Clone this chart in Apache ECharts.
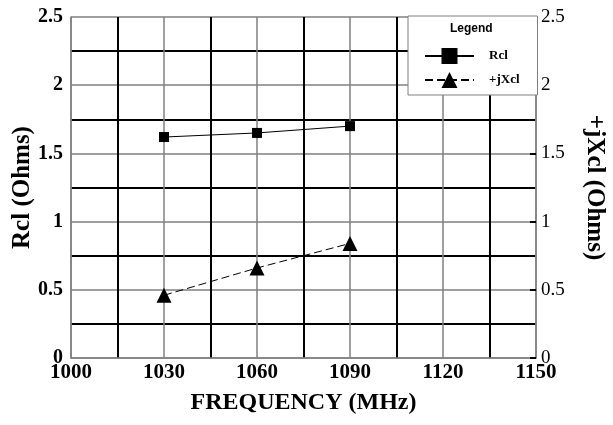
<!DOCTYPE html>
<html>
	<head>
		<meta charset="UTF-8">
		<title>Rcl / +jXcl vs frequency</title>
		<script src="https://cdn.jsdelivr.net/npm/echarts@6/dist/echarts.min.js" type="text/javascript" charset="utf-8"></script>
	</head>
	<body style="margin:0;background:#fff;">
		<div id="main" style="width: 613px;height: 425px;"></div>
	</body>
	<script type="text/javascript">
var freq = [1030, 1060, 1090];
var rcl = [1.62, 1.65, 1.70];
var jxcl = [0.46, 0.66, 0.84];
var xTicks = [1000, 1030, 1060, 1090, 1120, 1150];
var yTicks = [0, 0.5, 1, 1.5, 2, 2.5];

function pairs(xs, ys){
    var out = [];
    for (var i = 0; i < xs.length; i++) {
        out.push([xs[i], ys[i]]);
    }
    return out;
}

var myChart = echarts.init(document.getElementById('main'));
var serif = '"Liberation Serif", "Times New Roman", serif';

var option = {
    animation: false,
    backgroundColor: '#fff',
    grid: {
        left: 71,
        right: 77,
        top: 17,
        bottom: 67,
        containLabel: false,
        outerBoundsMode: 'none'
    },
    xAxis: {
        type: 'value',
        min: xTicks[0],
        max: xTicks[xTicks.length - 1],
        interval: 30,
        name: 'FREQUENCY (MHz)',
        nameLocation: 'middle',
        nameGap: 33,
        nameTextStyle: {
            fontFamily: serif,
            fontWeight: 'bold',
            fontSize: 24,
            color: '#000'
        },
        axisLine: {
            lineStyle: { color: '#808080', width: 1.5 }
        },
        axisTick: { show: false },
        axisLabel: {
            fontFamily: serif,
            fontWeight: 'bold',
            fontSize: 21,
            color: '#000',
            margin: 4,
            formatter: function (v) { return String(v); }
        },
        splitLine: {
            show: true,
            lineStyle: { color: '#808080', width: 1.5 }
        },
        minorTick: { show: false, splitNumber: 2 },
        minorSplitLine: {
            show: true,
            lineStyle: { color: '#000', width: 2 }
        }
    },
    yAxis: [
        {
            type: 'value',
            min: yTicks[0],
            max: yTicks[yTicks.length - 1],
            interval: 0.5,
            name: 'Rcl (Ohms)',
            nameLocation: 'middle',
            nameGap: 36,
            nameMoveOverlap: false,
            nameTextStyle: {
                fontFamily: serif,
                fontWeight: 'bold',
                fontSize: 25,
                color: '#000'
            },
            axisLine: {
                show: true,
                lineStyle: { color: '#808080', width: 1.5 }
            },
            axisTick: { show: false },
            axisLabel: {
                fontFamily: serif,
                fontWeight: 'bold',
                fontSize: 20,
                color: '#000',
                margin: 8
            },
            splitLine: {
                show: true,
                lineStyle: { color: '#808080', width: 1.5 }
            },
            minorTick: { show: false, splitNumber: 2 },
            minorSplitLine: {
                show: true,
                lineStyle: { color: '#000', width: 2 }
            }
        },
        {
            type: 'value',
            position: 'right',
            min: yTicks[0],
            max: yTicks[yTicks.length - 1],
            interval: 0.5,
            name: '+jXcl (Ohms)',
            nameLocation: 'middle',
            nameGap: 46,
            nameMoveOverlap: false,
            nameRotate: -90,
            nameTextStyle: {
                fontFamily: serif,
                fontWeight: 'bold',
                fontSize: 25,
                color: '#000'
            },
            axisLine: {
                show: true,
                lineStyle: { color: '#808080', width: 1.5 }
            },
            axisTick: {
                show: true,
                inside: true,
                length: 6,
                lineStyle: { color: '#000', width: 2 }
            },
            axisLabel: {
                fontFamily: serif,
                fontSize: 19,
                color: '#000',
                margin: 5
            },
            splitLine: { show: false }
        }
    ],
    legend: {
        orient: 'vertical',
        left: 408,
        top: 16,
        padding: [32, 18, 7, 16],
        itemWidth: 49,
        itemHeight: 20,
        itemGap: 8,
        backgroundColor: '#fff',
        borderColor: '#808080',
        borderWidth: 1,
        textStyle: {
            fontFamily: serif,
            fontWeight: 'bold',
            fontSize: 13,
            color: '#000',
            padding: [0, 0, 0, 10]
        },
        data: ['Rcl', '+jXcl']
    },
    graphic: [
        {
            type: 'text',
            left: 450,
            top: 23,
            z: 10,
            style: {
                text: 'Legend',
                fontFamily: '"Liberation Sans", Arial, sans-serif',
                fontWeight: 'bold',
                fontSize: 12,
                fill: '#000'
            }
        }
    ],
    series: [
        {
            name: 'Rcl',
            type: 'line',
            yAxisIndex: 0,
            symbol: 'rect',
            symbolSize: 10,
            lineStyle: { color: '#000', width: 1 },
            itemStyle: { color: '#000' },
            data: pairs(freq, rcl)
        },
        {
            name: '+jXcl',
            type: 'line',
            yAxisIndex: 1,
            symbol: 'triangle',
            symbolSize: 15,
            lineStyle: { color: '#000', width: 1, type: [8, 4] },
            itemStyle: { color: '#000' },
            data: pairs(freq, jxcl)
        }
    ]
};
myChart.setOption(option);
	</script>
</html>
